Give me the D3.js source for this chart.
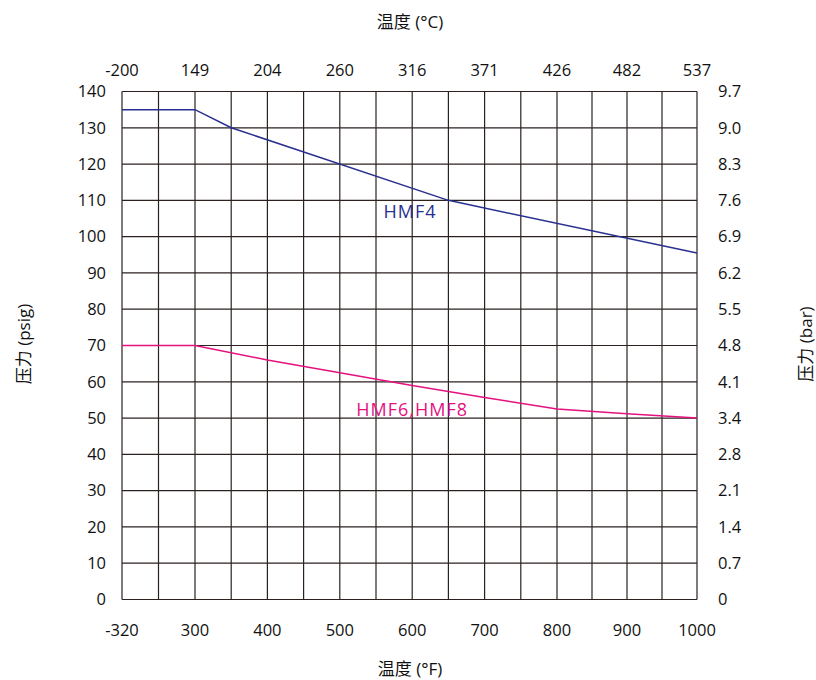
<!DOCTYPE html>
<html>
<head>
<meta charset="utf-8">
<script src="https://cdn.jsdelivr.net/npm/d3@7"></script>
<style>
  body { margin: 0; background: #fff; }
  text { font-family: "Open Sans", "Noto Sans", "Noto Sans CJK SC", sans-serif; fill: #111; }
</style>
</head>
<body>
<svg id="canvas" width="816" height="680"></svg>
<script>
// data
let tempF = [-320, 300, 400, 500, 600, 700, 800, 900, 1000]
let tempC = ['-200', '149', '204', '260', '316', '371', '426', '482', '537']
let psigTicks = [0, 10, 20, 30, 40, 50, 60, 70, 80, 90, 100, 110, 120, 130, 140]
let barTicks = ['0', '0.7', '1.4', '2.1', '2.8', '3.4', '4.1', '4.8', '5.5', '6.2', '6.9', '7.6', '8.3', '9.0', '9.7']

let hmf4Temp = [-320, 300, 350, 650, 1000]
let hmf4Psig = [135, 135, 130, 110, 95.5]
let hmf6Temp = [-320, 300, 400, 500, 600, 700, 800, 900, 1000]
let hmf6Psig = [70, 70, 66, 62.5, 59, 55.7, 52.5, 51.2, 50]

let gridTemps = [-320, -10, 300, 350, 400, 450, 500, 550, 600, 650, 700, 750, 800, 850, 900, 950, 1000]

let canvas = d3.select('#canvas')

// broken axis: -320 and 300 sit one step apart
let x = d3.scaleLinear()
    .domain([-320, 300, 800, 1000])
    .range([122, 195, 557, 697])

let y = d3.scaleLinear()
    .domain([0, 140])
    .range([599.5, 91.5])

let gridColor = '#2b2220'

// grid
canvas.append('g')
    .selectAll('line')
    .data(gridTemps)
    .enter()
    .append('line')
    .attr('x1', d => x(d)).attr('x2', d => x(d))
    .attr('y1', y(0)).attr('y2', y(140))
    .attr('stroke', gridColor).attr('stroke-width', 1.2)

canvas.append('g')
    .selectAll('line')
    .data(psigTicks)
    .enter()
    .append('line')
    .attr('x1', x(-320)).attr('x2', x(1000))
    .attr('y1', d => y(d)).attr('y2', d => y(d))
    .attr('stroke', gridColor).attr('stroke-width', 1.2)

// left axis labels
canvas.append('g')
    .selectAll('text')
    .data(psigTicks)
    .enter()
    .append('text')
    .attr('x', 106)
    .attr('y', d => y(d))
    .attr('dy', '0.35em')
    .attr('text-anchor', 'end')
    .attr('font-size', 16.5)
    .text(d => d)

// right axis labels
canvas.append('g')
    .selectAll('text')
    .data(barTicks)
    .enter()
    .append('text')
    .attr('x', 718)
    .attr('y', (d, i) => y(psigTicks[i]))
    .attr('dy', '0.35em')
    .attr('text-anchor', 'start')
    .attr('font-size', 16.5)
    .text(d => d)

// bottom axis labels
canvas.append('g')
    .selectAll('text')
    .data(tempF)
    .enter()
    .append('text')
    .attr('x', d => x(d))
    .attr('y', 630)
    .attr('dy', '0.35em')
    .attr('text-anchor', 'middle')
    .attr('font-size', 16.5)
    .text(d => d)

// top axis labels
canvas.append('g')
    .selectAll('text')
    .data(tempC)
    .enter()
    .append('text')
    .attr('x', (d, i) => x(tempF[i]))
    .attr('y', 70)
    .attr('dy', '0.35em')
    .attr('text-anchor', 'middle')
    .attr('font-size', 16.5)
    .text(d => d)

// axis titles
canvas.append('text').attr('x', 410).attr('y', 22).attr('dy', '0.35em')
    .attr('text-anchor', 'middle').attr('font-size', 17).text('温度 (°C)')
canvas.append('text').attr('x', 410).attr('y', 669).attr('dy', '0.35em')
    .attr('text-anchor', 'middle').attr('font-size', 17).text('温度 (°F)')
canvas.append('text').attr('transform', 'translate(24,344) rotate(-90)').attr('dy', '0.35em')
    .attr('text-anchor', 'middle').attr('font-size', 17).text('压力 (psig)')
canvas.append('text').attr('transform', 'translate(806,344) rotate(-90)').attr('dy', '0.35em')
    .attr('text-anchor', 'middle').attr('font-size', 17).text('压力 (bar)')

// lines
let line = d3.line()
    .x(d => x(d[0]))
    .y(d => y(d[1]))

canvas.append('path')
    .datum(d3.zip(hmf4Temp, hmf4Psig))
    .attr('d', line)
    .attr('fill', 'none')
    .attr('stroke', '#27308f')
    .attr('stroke-width', 1.5)

canvas.append('path')
    .datum(d3.zip(hmf6Temp, hmf6Psig))
    .attr('d', line)
    .attr('fill', 'none')
    .attr('stroke', '#e4117f')
    .attr('stroke-width', 1.5)

// series labels
canvas.append('text')
    .attr('x', x(597)).attr('y', y(107)).attr('dy', '0.35em')
    .attr('text-anchor', 'middle').attr('font-size', 18)
    .attr('letter-spacing', 1)
    .style('fill', '#27308f').text('HMF4')

canvas.append('text')
    .attr('x', x(600)).attr('y', y(52.3)).attr('dy', '0.35em')
    .attr('text-anchor', 'middle').attr('font-size', 18)
    .attr('letter-spacing', 1)
    .style('fill', '#e4117f').text('HMF6,HMF8')
</script>
</body>
</html>
